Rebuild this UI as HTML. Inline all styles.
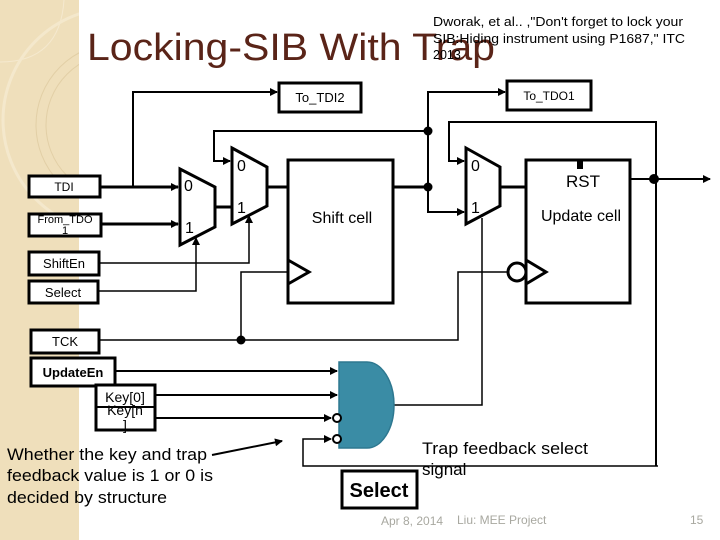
<!DOCTYPE html>
<html><head><meta charset="utf-8"><style>
body{margin:0;width:720px;height:540px;overflow:hidden;background:#fff}
svg{display:block}
text{font-family:"Liberation Sans",sans-serif}
</style></head><body>
<svg width="720" height="540" viewBox="0 0 720 540" xmlns="http://www.w3.org/2000/svg">
<defs>
<marker id="a" markerWidth="8" markerHeight="8" refX="7" refY="4" orient="auto" markerUnits="userSpaceOnUse"><path d="M0,0 L8,4 L0,8 z" fill="#000"/></marker>
</defs>
<rect x="0" y="0" width="79" height="540" fill="#efdfbb"/>
<path d="M0,62 Q60,62 64,0" fill="none" stroke="#f5e9cf" stroke-width="1"/>
<circle cx="115" cy="120" r="112" fill="none" stroke="#f4e8cc" stroke-width="3"/>
<circle cx="118" cy="125" r="72" fill="none" stroke="#e2cfa6" stroke-width="1"/>
<circle cx="118" cy="125" r="82" fill="none" stroke="#e2cfa6" stroke-width="1"/>
<rect x="79" y="0" width="641" height="540" fill="#fff"/>

<text x="87" y="60" font-size="38" fill="#5a2418" textLength="408" lengthAdjust="spacingAndGlyphs">Locking-SIB  With  Trap</text>
<g font-size="12.5" fill="#000">
<text x="433" y="26" textLength="250" lengthAdjust="spacingAndGlyphs">Dworak, et al.. ,"Don't forget to lock your</text>
<text x="433" y="43" textLength="252" lengthAdjust="spacingAndGlyphs">SIB:Hiding instrument using P1687," ITC</text>
<text x="433" y="59">2013</text>
</g>

<g fill="#fff" stroke="#000" stroke-width="3">
<rect x="279" y="83" width="82" height="29"/>
<rect x="507" y="81" width="84" height="29"/>
<rect x="29" y="176" width="71" height="21"/>
<rect x="29" y="214" width="72" height="22"/>
<rect x="29" y="252" width="70" height="23"/>
<rect x="29" y="281" width="69" height="22"/>
<rect x="31" y="330" width="68" height="23"/>
<rect x="31" y="358" width="84" height="28"/>
<rect x="96" y="385" width="59" height="45"/>
<rect x="288" y="160" width="105" height="143"/>
<rect x="526" y="160" width="104" height="143"/>
<rect x="342" y="471" width="75" height="37"/>
</g>
<line x1="96" y1="407" x2="155" y2="407" stroke="#000" stroke-width="2"/>

<g font-size="13" text-anchor="middle" fill="#000">
<text x="320" y="102">To_TDI2</text>
<text x="549" y="100" font-size="12">To_TDO1</text>
<text x="64" y="191" font-size="12">TDI</text>
<text x="65" y="223" font-size="11">From_TDO</text>
<text x="65" y="234" font-size="11">1</text>
<text x="64" y="268">ShiftEn</text>
<text x="63" y="297">Select</text>
<text x="65" y="346">TCK</text>
<text x="73" y="377" font-weight="bold">UpdateEn</text>
<text x="125" y="402" font-size="14">Key[0]</text>
<text x="125" y="415" font-size="14">Key[n</text>
<text x="125" y="430" font-size="14">]</text>
<text x="342" y="223" font-size="16">Shift cell</text>
<text x="583" y="187" font-size="17">RST</text>
<text x="581" y="221" font-size="16">Update cell</text>
<text x="379" y="497" font-size="20" font-weight="bold">Select</text>
</g>

<g fill="#fff" stroke="#000" stroke-width="3">
<path d="M180,169 L215,187 L215,227 L180,245 z"/>
<path d="M232,148 L267,167 L267,206 L232,224 z"/>
<path d="M466,148 L500,167 L500,206 L466,224 z"/>
</g>
<g font-size="16" fill="#000">
<text x="184" y="191">0</text><text x="185" y="233">1</text>
<text x="237" y="171">0</text><text x="237" y="213">1</text>
<text x="471" y="171">0</text><text x="471" y="213">1</text>
</g>
<rect x="577" y="160" width="6" height="9" fill="#000"/>

<path d="M288,260 L309,272 L288,284" fill="none" stroke="#000" stroke-width="3"/>
<path d="M526,260 L546,272 L526,284" fill="none" stroke="#000" stroke-width="3"/>
<circle cx="517" cy="272" r="9" fill="#fff" stroke="#000" stroke-width="3"/>

<g stroke="#000" stroke-width="3" fill="none">
<path d="M100,187 L178,187" marker-end="url(#a)"/>
<path d="M101,224 L178,224" marker-end="url(#a)"/>
<path d="M215,207 L232,207"/>
<path d="M267,187 L288,187"/>
<path d="M393,187 L428,187"/>
<path d="M500,187 L526,187"/>
</g>
<g stroke="#000" stroke-width="2" fill="none">
<path d="M133,187 L133,92 L277,92" marker-end="url(#a)"/>
<path d="M428,187 L428,92 L505,92" marker-end="url(#a)"/>
<path d="M428,187 L428,212 L464,212" marker-end="url(#a)"/>
<path d="M428,131 L214,131 L214,161 L230,161" marker-end="url(#a)"/>
<path d="M656,466 L656,122 L449,122 L449,161 L464,161" marker-end="url(#a)"/>
<path d="M630,179 L710,179" marker-end="url(#a)"/>
</g>
<g stroke="#000" stroke-width="1.5" fill="none">
<path d="M99,263 L249,263 L249,216" marker-end="url(#a)"/>
<path d="M98,291 L196,291 L196,238" marker-end="url(#a)"/>
<path d="M99,340 L458,340 L458,272 L508,272"/>
<path d="M241,340 L241,272 L288,272"/>
<path d="M394,405 L482,405 L482,218"/>
<path d="M658,466 L303,466 L303,439 L331,439" marker-end="url(#a)"/>
</g>
<g fill="#000">
<circle cx="428" cy="131" r="4.5"/><circle cx="428" cy="187" r="4.5"/>
<circle cx="654" cy="179" r="5"/><circle cx="241" cy="340" r="4.5"/>
</g>

<path d="M339,362 L367,362 A27,43 0 0 1 367,448 L339,448 z" fill="#3a8ca5" stroke="#2e7890" stroke-width="1.5"/>
<g stroke="#000" stroke-width="2" fill="none">
<path d="M115,371 L337,371" marker-end="url(#a)"/>
<path d="M155,395 L337,395" marker-end="url(#a)"/>
<path d="M155,418 L331,418" marker-end="url(#a)"/>
</g>
<circle cx="337" cy="418" r="4" fill="#fff" stroke="#000" stroke-width="2"/>
<circle cx="337" cy="439" r="4" fill="#fff" stroke="#000" stroke-width="2"/>

<path d="M212,455 L282,441" stroke="#000" stroke-width="2" fill="none" marker-end="url(#a)"/>
<g font-size="17" fill="#000">
<text x="7" y="460" textLength="200" lengthAdjust="spacingAndGlyphs">Whether the key and trap</text>
<text x="7" y="481" textLength="206" lengthAdjust="spacingAndGlyphs">feedback value is 1 or 0 is</text>
<text x="7" y="503" textLength="160" lengthAdjust="spacingAndGlyphs">decided by structure</text>
<text x="422" y="454" textLength="166" lengthAdjust="spacingAndGlyphs">Trap feedback select</text>
<text x="422" y="475">signal</text>
</g>
<g font-size="12" fill="#a8a8a0">
<text x="381" y="525">Apr 8, 2014</text>
<text x="457" y="524">Liu: MEE Project</text>
<text x="690" y="524">15</text>
</g>
</svg>
</body></html>
